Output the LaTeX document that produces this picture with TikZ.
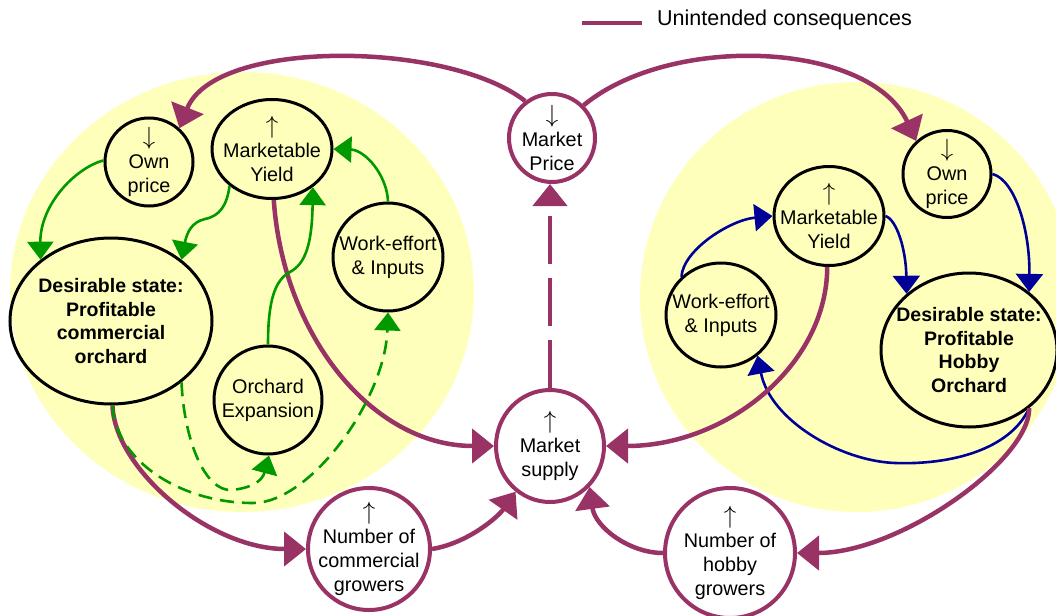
\documentclass[tikz,border=0pt]{standalone}
\usepackage{fontspec}
\setmainfont{Liberation Sans}
\usetikzlibrary{arrows.meta,shapes.geometric}
\definecolor{plum}{RGB}{153,51,102}
\definecolor{grn}{RGB}{0,153,0}
\definecolor{nvy}{RGB}{0,0,153}
\definecolor{pale}{RGB}{255,255,188}
\newcommand{\upar}{{\fontsize{24}{24}\selectfont$\uparrow$}}
\newcommand{\dnar}{{\fontsize{24}{24}\selectfont$\downarrow$}}
\begin{document}
\begin{tikzpicture}[x=1pt,y=-1pt,
  bg/.style={ellipse, fill=pale, draw=none, inner sep=0pt},
  var/.style={ellipse, draw=black, line width=3pt, inner sep=0pt},
  mkt/.style={ellipse, draw=plum, fill=white, line width=4pt, inner sep=0pt},
  lbl/.style={align=center, inner sep=0pt, font=\fontsize{19.8}{24}\selectfont},
  blbl/.style={align=center, inner sep=0pt, font=\bfseries\fontsize{19.5}{23.5}\selectfont},
  unint/.style={draw=plum, line width=4.5pt, -{Triangle[length=22pt,width=34pt]}},
  gfb/.style={draw=grn, line width=2.6pt, -{Triangle[length=18pt,width=26pt]}},
  bfb/.style={draw=nvy, line width=2.6pt, -{Triangle[length=18pt,width=27pt]}},
  gdash/.style={dash pattern=on 14pt off 8pt},
  pdash/.style={dash pattern=on 48pt off 14pt}
]
\useasboundingbox (0,0) rectangle (1056,615);
\clip (0,0) rectangle (1056,615);
\fill[white] (0,0) rectangle (1056,615);

% background areas
\node[bg, minimum width=464pt, minimum height=440pt] (bgL) at (242,292) {};
\node[bg, minimum width=434pt, minimum height=430pt] (bgR) at (857,297) {};

% left nodes
\node[var, minimum width=88pt, minimum height=88pt] (opL) at (149,162) {};
\node[lbl] (opLt) at (opL) {\dnar\\Own\\price};
\node[var, minimum width=120pt, minimum height=99pt] (myL) at (272,149) {};
\node[lbl] (myLt) at (myL) {\upar\\Marketable\\Yield};
\node[var, minimum width=110pt, minimum height=108pt] (weL) at (388,257) {};
\node[lbl] (weLt) at (weL) {Work-effort\\\& Inputs};
\node[var, minimum width=202pt, minimum height=166pt] (dsL) at (111,321) {};
\node[blbl] (dsLt) at (dsL) {Desirable state:\\Profitable\\commercial\\orchard};
\node[var, minimum width=108pt, minimum height=108pt] (oeL) at (268,400) {};
\node[lbl] (oeLt) at (oeL) {Orchard\\Expansion};

% market nodes
\node[mkt, minimum width=86pt, minimum height=88pt] (mp) at (552,138) {};
\node[lbl] (mpt) at (mp) {\dnar\\Market\\Price};
\node[mkt, minimum width=108pt, minimum height=112pt] (ms) at (550,446) {};
\node[lbl] (mst) at (ms) {\upar\\Market\\supply};
\node[mkt, minimum width=122pt, minimum height=122pt] (ncg) at (369,549) {};
\node[lbl] (ncgt) at (ncg) {\upar\\Number of\\commercial\\growers};
\node[mkt, minimum width=130pt, minimum height=130pt] (nhg) at (730,553) {};
\node[lbl] (nhgt) at (nhg) {\upar\\Number of\\hobby\\growers};

% right nodes
\node[var, minimum width=88pt, minimum height=87pt] (opR) at (947,174) {};
\node[lbl] (opRt) at (opR) {\dnar\\Own\\price};
\node[var, minimum width=110pt, minimum height=99pt] (myR) at (829,216) {};
\node[lbl] (myRt) at (myR) {\upar\\Marketable\\Yield};
\node[var, minimum width=110pt, minimum height=104pt] (weR) at (721,315) {};
\node[lbl] (weRt) at (weR) {Work-effort\\\& Inputs};
\node[var, minimum width=176pt, minimum height=154pt] (dsR) at (969,350) {};
\node[blbl] (dsRt) at (dsR) {Desirable state:\\Profitable\\Hobby\\Orchard};

% blue feedbacks (hobby)
\draw[bfb] (opR.east) .. controls (1015,180) and (1030,230) .. (dsR.44);
\draw[bfb] (myR.east) .. controls (897,220) and (906,250) .. (dsR.138);
\draw[bfb] (weR.136) .. controls (683,250) and (730,220) .. (myR.west);
\draw[bfb] (dsR.-44) .. controls (1010,450) and (950,465) .. (895,463)
  .. controls (840,461) and (770,420) .. (weR.-48);

% unintended consequences
\draw[unint] (mp.126) .. controls (449,41) and (215,38) .. (opL.48);
\draw[unint] (mp.46) .. controls (671,33) and (870,41) .. (opR.133);
\draw[unint, pdash] (ms.north) -- (ms.north |- mp.south);
\draw[unint] (myL.-88) .. controls (283,335) and (372,446) .. (ms.west);
\draw[unint] (dsL.-89) .. controls (115,470) and (210,549) .. (ncg.west);
\draw[unint] (ncg.east) .. controls (468,543) and (498,517) .. (ms.233);
\draw[unint] (myR.-92) .. controls (827,365) and (727,446) .. (ms.east);
\draw[unint] (nhg.west) .. controls (629,553) and (595,527) .. (ms.-46);
\draw[unint] (dsR.-44) .. controls (1030,460) and (900,553) .. (nhg.east);

% green feedbacks (commercial)
\draw[gfb] (opL.178) .. controls (75,168) and (40,205) .. (dsL.139);
\draw[gfb] (myL.221) .. controls (227,205) and (220,216) .. (205,219)
  .. controls (192,222) and (187,232) .. (dsL.41);
\draw[gfb] (oeL.north) .. controls (268,300) and (275,280) .. (290,272)
  .. controls (305,264) and (312,245) .. (myL.-43);
\draw[gfb] (weL.north) .. controls (387,175) and (365,150) .. (myL.east);
\draw[gfb, gdash] (dsL.-41) .. controls (184,440) and (205,492) .. (232,490)
  .. controls (250,488) and (262,482) .. (oeL.-89);
\draw[gfb, gdash] (dsL.-89) .. controls (115,460) and (180,503) .. (253,503)
  .. controls (310,503) and (385,400) .. (weL.south);

% legend
\coordinate (lg1) at (582,23);
\coordinate (lg2) at (642,23);
\draw[plum, line width=4.5pt] (lg1) -- (lg2);
\node[anchor=west, inner sep=0pt, font=\fontsize{21.5}{26}\selectfont] (lgt) at (657,20) {Unintended consequences};
\end{tikzpicture}
\end{document}
